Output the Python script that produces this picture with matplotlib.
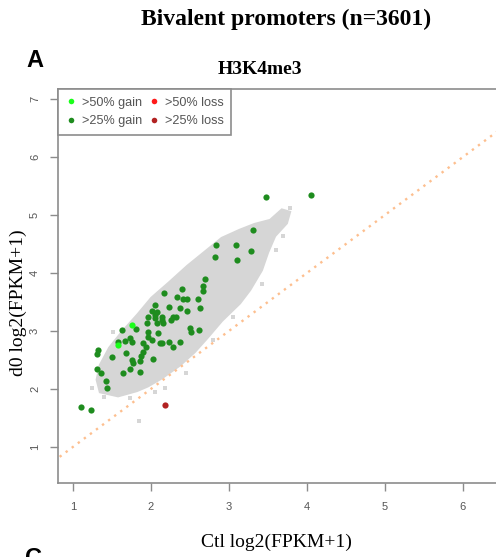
import numpy as np
import matplotlib
matplotlib.use("Agg")
import matplotlib.pyplot as plt
from matplotlib.lines import Line2D

# Promoters with >25% gain (Ctl, d0)
gain25_x = [3.47, 4.05, 3.31, 2.83, 3.09, 2.82, 3.29, 3.10, 2.69, 2.67,
            2.67, 2.40, 2.17, 2.33, 2.41, 2.46, 2.60, 2.05, 2.23, 2.37,
            2.63, 2.47, 2.01, 2.05, 2.14, 2.28, 2.32, 2.08, 1.97, 2.05,
            2.14, 1.95, 2.08, 2.26, 2.15, 1.63, 1.81, 1.97, 2.09, 2.50,
            2.51, 2.62, 1.97, 2.01, 1.58, 1.67, 1.73, 1.76, 1.90, 1.94,
            1.90, 1.88, 1.86, 2.12, 2.14, 2.23, 2.37, 2.29, 1.32, 1.31,
            1.50, 1.68, 1.76, 1.77, 2.03, 1.31, 1.36, 1.73, 1.64, 1.86,
            1.42, 1.44, 1.10, 1.23]
gain25_y = [5.31, 5.34, 4.74, 4.48, 4.48, 4.28, 4.38, 4.22, 3.90, 3.78,
            3.69, 3.72, 3.66, 3.59, 3.55, 3.55, 3.55, 3.45, 3.41, 3.40,
            3.40, 3.34, 3.34, 3.28, 3.24, 3.24, 3.24, 3.33, 3.24, 3.22,
            3.19, 3.14, 3.14, 3.19, 3.14, 3.02, 3.03, 2.98, 2.97, 3.05,
            2.98, 3.02, 2.90, 2.84, 2.81, 2.83, 2.88, 2.81, 2.79, 2.72,
            2.64, 2.57, 2.48, 2.79, 2.79, 2.81, 2.81, 2.72, 2.67, 2.60,
            2.55, 2.62, 2.50, 2.45, 2.52, 2.34, 2.28, 2.34, 2.28, 2.29,
            2.14, 2.02, 1.69, 1.64]

# >50% gain
gain50_x = [1.76, 1.58]
gain50_y = [3.10, 2.76]

# >25% loss
loss25_x = [2.18]
loss25_y = [1.72]

# outline of the dense cloud of all promoters
cloud_x = [1.35, 1.58, 1.82, 1.96, 2.14, 2.37, 2.56, 2.72, 2.91, 3.14,
           3.27, 3.42, 3.50, 3.59, 3.74, 3.78, 3.68, 3.53, 3.33, 3.14,
           2.91, 2.69, 2.47, 2.24, 2.01, 1.83, 1.63, 1.47, 1.35, 1.31]
cloud_y = [1.95, 1.88, 1.97, 2.05, 2.19, 2.41, 2.64, 2.88, 3.18, 3.48,
           3.71, 4.05, 4.36, 4.64, 4.86, 5.05, 5.09, 4.91, 4.84, 4.74,
           4.60, 4.36, 4.12, 3.84, 3.57, 3.28, 2.98, 2.71, 2.41, 2.16]

# scattered promoters outside the dense cloud
stray_x = [1.85, 1.73, 2.05, 2.18, 1.24, 3.69, 3.69, 3.78, 3.42, 3.60,
           1.40, 2.45, 3.05, 2.80, 1.52]
stray_y = [1.45, 1.84, 1.95, 2.02, 2.02, 4.97, 4.64, 5.12, 3.81, 4.40,
           1.86, 2.28, 3.25, 2.84, 2.98]

xticks = [1, 2, 3, 4, 5, 6]
yticks = [1, 2, 3, 4, 5, 6, 7]

serif = "Liberation Serif"
sans = "Liberation Sans"
frame_col = "#8c8c8c"
cloud_col = "#d6d6d6"
dkgreen = "#1e8c1e"
ltgreen = "#1aff1a"
red = "#ff1a1a"
dkred = "#b22222"

fig = plt.figure(figsize=(4.96, 5.57), dpi=100)
ax = fig.add_axes([58 / 496, 0.1329, 447 / 496, 0.707])

ax.fill(cloud_x, cloud_y, color=cloud_col, lw=2, ec=cloud_col, zorder=1)
ax.scatter(stray_x, stray_y, s=6, color=cloud_col, marker="s", lw=0, zorder=1)

ax.plot([0, 8], [0, 8], ls=(0, (1, 2.2)), color="#fdbf8f", lw=1.7, zorder=2)

ax.scatter(gain25_x, gain25_y, s=20, color=dkgreen, lw=0, zorder=3)
ax.scatter(gain50_x, gain50_y, s=20, color=ltgreen, lw=0, zorder=3)
ax.scatter(loss25_x, loss25_y, s=20, color=dkred, lw=0, zorder=3)

ax.set_xlim(0.81, 6.54)
ax.set_ylim(0.38, 7.17)
ax.set_xticks(xticks)
ax.set_yticks(yticks)
ax.tick_params(axis="both", length=6, width=1, color=frame_col,
               labelcolor="#555555", labelsize=8)
ax.tick_params(axis="x", pad=8)
ax.tick_params(axis="y", pad=7, labelrotation=90)
for lab in ax.get_yticklabels():
    lab.set_verticalalignment("center")
for lab in ax.get_xticklabels() + ax.get_yticklabels():
    lab.set_fontfamily(sans)
for sp in ax.spines.values():
    sp.set_color(frame_col)
    sp.set_linewidth(1.2)

handles = [
    Line2D([], [], ls="", marker="o", ms=4, mew=0, color=ltgreen, label=">50% gain"),
    Line2D([], [], ls="", marker="o", ms=4, mew=0, color=dkgreen, label=">25% gain"),
    Line2D([], [], ls="", marker="o", ms=4, mew=0, color=red, label=">50% loss"),
    Line2D([], [], ls="", marker="o", ms=4, mew=0, color=dkred, label=">25% loss"),
]
leg = ax.legend(handles=handles, ncol=2, loc="upper left", bbox_to_anchor=(0, 1),
                borderaxespad=0, fancybox=False, framealpha=1,
                edgecolor=frame_col, handlelength=0.8, handletextpad=0.5,
                columnspacing=0.5, labelspacing=0.5, borderpad=0.6,
                prop={"family": sans, "size": 9.1})
leg.get_frame().set_linewidth(1.2)
for t in leg.get_texts():
    t.set_color("#555555")

fig.text(286 / 496, 1 - 19 / 557, "Bivalent promoters (n=3601)", family=serif,
         weight="bold", size=17, ha="center", va="center")
fig.text(26 / 496, 1 - 49 / 557, "A", family=sans, weight="bold", size=17,
         ha="left", va="top")
fig.text(260 / 496, 1 - 70 / 557, "H3K4me3", family=serif, weight="bold",
         size=14, ha="center", va="center")
fig.text(18 / 496, 1 - 303 / 557, "d0 log2(FPKM+1)", family=serif, size=14,
         rotation=90, ha="center", va="center")
fig.text(276 / 496, 1 - 542 / 557, "Ctl log2(FPKM+1)", family=serif, size=14,
         ha="center", va="center")
fig.text(25 / 496, 1 - 547 / 557, "C", family=sans, weight="bold", size=17,
         ha="left", va="top")

fig.savefig("out.png", dpi=100)
